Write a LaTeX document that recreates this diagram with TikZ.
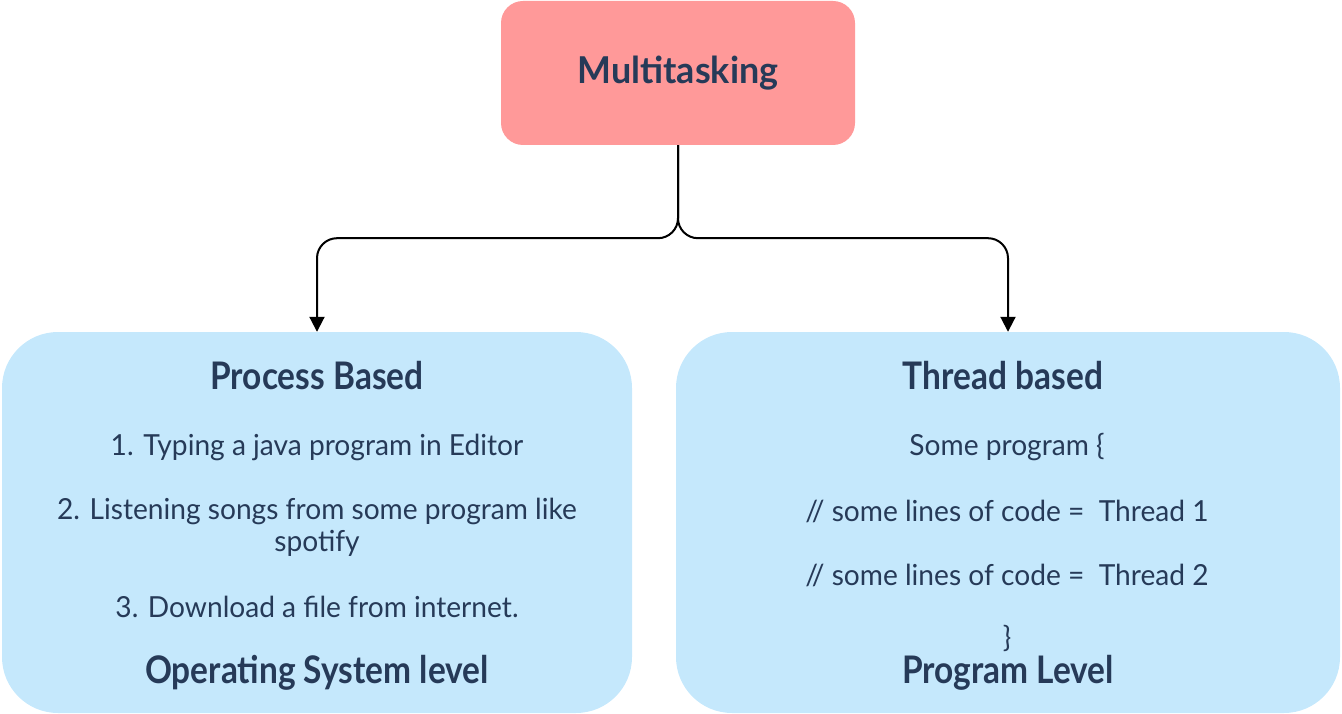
\documentclass[tikz,border=0pt]{standalone}
\usepackage{fontspec}
\setmainfont{Lato}[FakeStretch=0.97]
\newfontfamily\headfont{Lato}[FakeStretch=0.88]
\usetikzlibrary{arrows.meta}
\definecolor{pinkfill}{HTML}{FF9999}
\definecolor{bluefill}{HTML}{C5E8FC}
\definecolor{navy}{HTML}{263A58}
\begin{document}
\begin{tikzpicture}[x=1pt,y=-1pt,
  pinkbox/.style={fill=pinkfill,draw=none,rounded corners=22pt,inner sep=0pt,text=navy,font=\fontsize{37}{42}\selectfont\bfseries},
  bluebox/.style={fill=bluefill,draw=none,rounded corners=56pt,inner sep=0pt},
  head/.style={text=navy,inner sep=0pt,font=\headfont\fontsize{38}{42}\selectfont\bfseries},
  body/.style={text=navy,inner sep=0pt,align=center,font=\fontsize{29}{32}\selectfont},
  conn/.style={draw=black,line width=2pt,rounded corners=20pt,-{Triangle[length=15pt,width=15pt]}}]
\useasboundingbox (0,0) rectangle (1342,714);
\node[pinkbox,minimum width=354pt,minimum height=144pt] (mt) at (678,73) {Multitasking};
\node[bluebox,minimum width=630pt,minimum height=381pt] (pb) at (317,522.5) {};
\node[bluebox,minimum width=664pt,minimum height=381pt] (tb) at (1008,522.5) {};
\draw[conn] (mt.south) -- ++(0,93) -| (pb.north);
\draw[conn] (mt.south) -- ++(0,93) -| (tb.north);
\node[head] (pbt) at (317,376) {Process Based};
\node[body] (p1) at (317,447) {1. Typing a java program in Editor};
\node[body] (p2) at (317,527) {2. Listening songs from some program like\\spotify};
\node[body] (p3) at (317,607) {3. Download a file from internet.};
\node[head] (pbl) at (317,673) {Operating System level};
\node[head] (tbt) at (1003,376) {Thread based};
\node[body] (t1) at (1007,447) {Some program \{};
\node[body] (t2) at (1007,511) {// some lines of code =\ \ Thread 1};
\node[body] (t3) at (1007,575) {// some lines of code =\ \ Thread 2};
\node[body] (t4) at (1007,638) {\}};
\node[head] (tbl) at (1008,673) {Program Level};
\end{tikzpicture}
\end{document}
